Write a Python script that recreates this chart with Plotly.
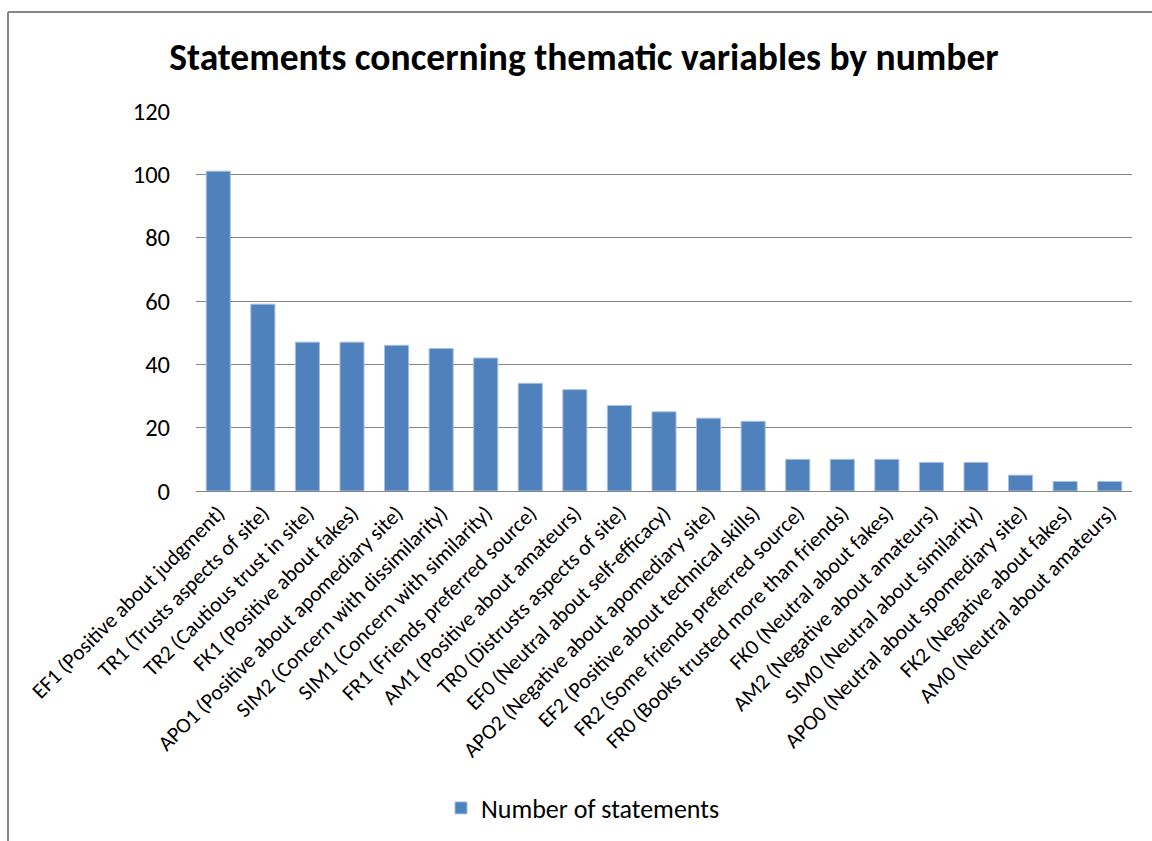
import plotly.graph_objects as go

categories = [
    "EF1 (Positive about judgment)",
    "TR1 (Trusts aspects of site)",
    "TR2 (Cautious trust in site)",
    "FK1 (Positive about fakes)",
    "APO1 (Positive about apomediary site)",
    "SIM2 (Concern with dissimilarity)",
    "SIM1 (Concern with similarity)",
    "FR1 (Friends preferred source)",
    "AM1 (Positive about amateurs)",
    "TR0 (Distrusts aspects of site)",
    "EF0 (Neutral about self-efficacy)",
    "APO2 (Negative about apomediary site)",
    "EF2 (Positive about technical skills)",
    "FR2 (Some friends preferred source)",
    "FR0 (Books trusted more than friends)",
    "FK0 (Neutral about fakes)",
    "AM2 (Negative about amateurs)",
    "SIM0 (Neutral about similarity)",
    "APO0 (Neutral about spomediary site)",
    "FK2 (Negative about fakes)",
    "AM0 (Neutral about amateurs)",
]
statements = [101, 59, 47, 47, 46, 45, 42, 34, 32, 27, 25, 23, 22, 10, 10, 10, 9, 9, 5, 3, 3]
y_ticks = [0, 20, 40, 60, 80, 100, 120]

FONT = "Carlito, Calibri, 'Open Sans', sans-serif"

fig = go.Figure()
fig.add_trace(go.Bar(
    x=categories, y=statements, name="Number of statements",
    marker=dict(color="#4F81BD", line=dict(color="#A7C0DE", width=1)),
    width=0.54,
))

W, H = 1152, 841
ml, mr, mt, mb = 196, 20, 111, 350
pw, ph = W - ml - mr, H - mt - mb

def px(x):
    return (x - ml) / pw

def py(y):
    return (H - mb - y) / ph

fig.update_layout(
    width=W, height=H,
    margin=dict(l=ml, r=mr, t=mt, b=mb, autoexpand=False),
    paper_bgcolor="white", plot_bgcolor="white",
    font=dict(family=FONT, color="#000000"),
    title=dict(text="<b>Statements concerning thematic variables by number</b>",
               x=px(584), xref="paper", xanchor="center",
               y=1 - 57 / H, yanchor="middle", yref="container",
               font=dict(size=37.5, family=FONT, color="#000000")),
    showlegend=True,
    legend=dict(orientation="h", x=px(441), xanchor="left", y=py(808), yanchor="middle",
                font=dict(size=26, family=FONT, color="#000000"),
                itemwidth=30, bgcolor="rgba(0,0,0,0)"),
    bargap=0.46,
    xaxis=dict(tickangle=-45, tickfont=dict(size=21.5, family=FONT, color="#000000"),
               showgrid=False, showline=True, linecolor="#868686", linewidth=1,
               ticks="", ticklen=0),
    yaxis=dict(range=[0, 120], tickvals=y_ticks, showgrid=True, gridcolor="#868686", gridwidth=1,
               zeroline=False, showline=False, ticks="", ticklabelstandoff=25,
               tickfont=dict(size=24.5, family=FONT, color="#000000")),
    shapes=[
        dict(type="line", xref="paper", yref="paper", x0=px(8), x1=px(1152), y0=py(12), y1=py(12),
             line=dict(color="#868686", width=2)),
        dict(type="line", xref="paper", yref="paper", x0=px(8), x1=px(8), y0=py(12), y1=py(845),
             line=dict(color="#868686", width=2)),
    ],
)

fig.write_html("out.html")
